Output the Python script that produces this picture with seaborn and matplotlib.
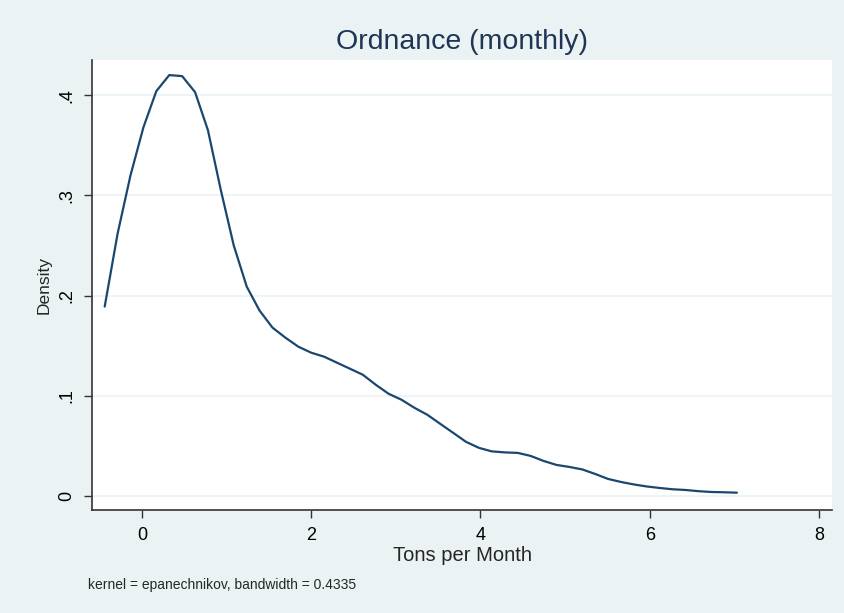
import matplotlib
matplotlib.use('Agg')
import matplotlib.pyplot as plt
import seaborn as sns
import pandas as pd

# density estimate (kernel = epanechnikov)
tons = [-0.44, -0.287, -0.135, 0.018, 0.17, 0.323, 0.475, 0.628, 0.78, 0.933,
        1.085, 1.238, 1.39, 1.543, 1.695, 1.848, 2.0, 2.153, 2.305, 2.458,
        2.61, 2.763, 2.915, 3.068, 3.22, 3.373, 3.525, 3.678, 3.83, 3.983,
        4.135, 4.288, 4.44, 4.593, 4.745, 4.898, 5.05, 5.203, 5.355, 5.508,
        5.66, 5.813, 5.965, 6.118, 6.27, 6.423, 6.575, 6.728, 6.88, 7.03]
density = [0.189, 0.262, 0.320, 0.368, 0.404, 0.420, 0.419, 0.403, 0.365, 0.305,
           0.250, 0.209, 0.185, 0.168, 0.158, 0.149, 0.143, 0.139, 0.133, 0.127,
           0.121, 0.111, 0.102, 0.096, 0.088, 0.081, 0.072, 0.063, 0.054, 0.048,
           0.0445, 0.0435, 0.043, 0.040, 0.035, 0.031, 0.029, 0.0265, 0.022, 0.017,
           0.014, 0.0115, 0.0095, 0.008, 0.0067, 0.006, 0.0048, 0.004, 0.0037, 0.0033]
x_ticks = [0, 2, 4, 6, 8]
y_ticks = [0, 0.1, 0.2, 0.3, 0.4]
y_labels = ['0', '.1', '.2', '.3', '.4']

bg = '#eaf2f3'
navy = '#1a476f'

sns.set_style('white')
plt.rcParams['font.family'] = ['Liberation Sans', 'DejaVu Sans']

df = pd.DataFrame({'tons': tons, 'density': density})

fig = plt.figure(figsize=(8.44, 6.13), dpi=100, facecolor=bg)
ax = fig.add_axes([0.109, 0.168, 0.877, 0.734])
ax.set_facecolor('white')

sns.lineplot(data=df, x='tons', y='density', ax=ax, color=navy, linewidth=1.6)

ax.set_xlim(-0.59, 8.156)
ax.set_ylim(-0.014, 0.435)
ax.set_xticks(x_ticks)
ax.set_xticklabels([str(t) for t in x_ticks])
ax.set_yticks(y_ticks)
ax.set_yticklabels(y_labels, rotation=90, va='center')
ax.yaxis.grid(True, color=bg, linewidth=1.2)
ax.xaxis.grid(False)
ax.set_axisbelow(True)

for side in ['top', 'right']:
    ax.spines[side].set_visible(False)
for side in ['left', 'bottom']:
    ax.spines[side].set_color('#333333')
    ax.spines[side].set_linewidth(1.2)

ax.tick_params(axis='both', direction='out', length=6, width=1, color='#333333',
               labelsize=13, labelcolor='black', pad=6)
ax.tick_params(axis='both', which='both', bottom=True, left=True)

ax.set_xlabel('Tons per Month', fontsize=14.5, labelpad=2)
ax.set_ylabel('Density', fontsize=12.5, labelpad=5)
ax.set_title('Ordnance (monthly)', fontsize=20.5, color='#1e3556', pad=8)

fig.text(88 / 844, 1 - 585 / 613, 'kernel = epanechnikov, bandwidth = 0.4335',
         fontsize=10, va='center', ha='left')

fig.savefig('out.png', dpi=100, facecolor=bg)
